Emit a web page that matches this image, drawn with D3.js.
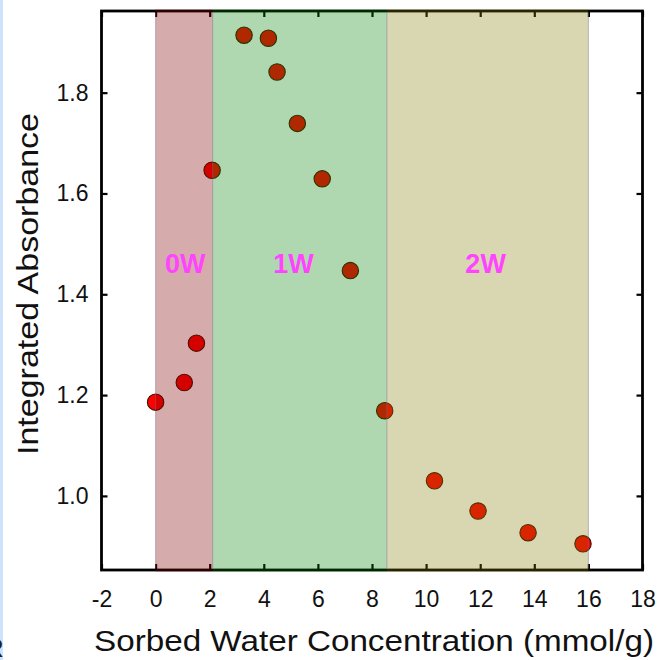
<!DOCTYPE html>
<html>
<head>
<meta charset="utf-8">
<script src="https://cdn.jsdelivr.net/npm/d3@7"></script>
<style>
  html, body { margin: 0; padding: 0; background: #fff; }
  svg { display: block; }
  text { font-family: "Liberation Sans", Arial, sans-serif; }
</style>
</head>
<body>
<script>
// Sorbed water concentration (mmol/g) and integrated absorbance
const waterConc = [0.0, 1.06, 1.51, 2.09, 3.27, 4.17, 4.49, 5.24, 6.16, 7.20, 8.47, 10.31, 11.92, 13.77, 15.80];
const absorbance = [1.186, 1.225, 1.303, 1.646, 1.914, 1.908, 1.841, 1.739, 1.629, 1.447, 1.169, 1.030, 0.970, 0.927, 0.905];

// Hydration regimes (start, end) in mmol/g
const regionNames = ["0W", "1W", "2W"];
const regionStart = [0.0, 2.11, 8.55];
const regionEnd = [2.11, 8.55, 16.0];
const regionFill = ["rgba(128,0,0,0.33)", "rgba(0,130,0,0.31)", "rgba(128,118,0,0.30)"];
const labelX = [1.1, 5.1, 12.2];

const xTicks = [-2, 0, 2, 4, 6, 8, 10, 12, 14, 16, 18];
const yTicks = [1.0, 1.2, 1.4, 1.6, 1.8];

const W = 660, H = 660;
const svg = d3.select("body").append("svg").attr("width", W).attr("height", H);

// thin blue strip at the left edge, with the tail of a neighbouring letter
svg.append("rect").attr("x", 0).attr("y", 0).attr("width", 3).attr("height", H).attr("fill", "#cfe2fb");
svg.append("text").attr("x", -15).attr("y", 657).attr("font-size", 26).attr("fill", "#222").text("R");

const x = d3.scaleLinear().domain([-2, 18]).range([101.5, 642.5]);
const y = d3.scaleLinear().domain([0.853, 1.962]).range([570, 11]);

const plotLeft = x.range()[0], plotRight = x.range()[1];
const plotTop = y.range()[1], plotBottom = y.range()[0];
const tickLen = 6;

// axes with inward ticks on all four sides
const axisG = svg.append("g");
axisG.append("g").attr("transform", `translate(0,${plotBottom})`)
  .call(d3.axisBottom(x).tickValues(xTicks).tickSizeInner(-tickLen).tickSizeOuter(0).tickPadding(21)
    .tickFormat(d => String(d)));
axisG.append("g").attr("transform", `translate(0,${plotTop})`)
  .call(d3.axisTop(x).tickValues(xTicks).tickSizeInner(-tickLen).tickSizeOuter(0).tickFormat(""));
axisG.append("g").attr("transform", `translate(${plotLeft},0)`)
  .call(d3.axisLeft(y).tickValues(yTicks).tickSizeInner(-tickLen).tickSizeOuter(0).tickPadding(13)
    .tickFormat(d => d.toFixed(1)));
axisG.append("g").attr("transform", `translate(${plotRight},0)`)
  .call(d3.axisRight(y).tickValues(yTicks).tickSizeInner(-tickLen).tickSizeOuter(0).tickFormat(""));

axisG.selectAll(".domain").remove();
axisG.selectAll(".tick line").attr("stroke", "#000").attr("stroke-width", 2.2);
axisG.selectAll(".tick text").attr("font-size", 23).attr("fill", "#111")
  .attr("font-family", "'Liberation Sans', Arial, sans-serif");

svg.append("rect")
  .attr("x", plotLeft).attr("y", plotTop).attr("width", plotRight - plotLeft).attr("height", plotBottom - plotTop)
  .attr("fill", "none").attr("stroke", "#000").attr("stroke-width", 2.8);

// data points
svg.append("g").selectAll("circle")
  .data(waterConc.map((v, i) => [v, absorbance[i]]))
  .join("circle")
  .attr("cx", d => x(d[0])).attr("cy", d => y(d[1])).attr("r", 8.2)
  .attr("fill", "#ff0000").attr("stroke", "#3a1200").attr("stroke-width", 1.1);

// translucent regime bands drawn over everything in the frame
const bandG = svg.append("g");
bandG.selectAll("rect")
  .data(regionNames.map((n, i) => ({ n, s: regionStart[i], e: regionEnd[i], c: regionFill[i] })))
  .join("rect")
  .attr("x", d => x(d.s)).attr("width", d => x(d.e) - x(d.s))
  .attr("y", plotTop - 1.5).attr("height", plotBottom - plotTop + 3)
  .attr("fill", d => d.c);
bandG.selectAll("line")
  .data([regionStart[0], regionStart[1], regionStart[2], regionEnd[2]])
  .join("line")
  .attr("x1", d => x(d)).attr("x2", d => x(d))
  .attr("y1", plotTop + 1.5).attr("y2", plotBottom - 1.5)
  .attr("stroke", "rgba(120,110,140,0.45)").attr("stroke-width", 1);

// regime labels
svg.append("g").selectAll("text")
  .data(regionNames)
  .join("text")
  .attr("x", (d, i) => x(labelX[i])).attr("y", 273)
  .attr("text-anchor", "middle").attr("font-size", 27).attr("font-weight", "bold")
  .attr("fill", "#ff44ff").text(d => d);

// axis titles
svg.append("text").attr("x", 374).attr("y", 651).attr("text-anchor", "middle")
  .attr("font-size", 30).attr("textLength", 560).attr("lengthAdjust", "spacingAndGlyphs")
  .attr("fill", "#111").text("Sorbed Water Concentration (mmol/g)");
svg.append("text").attr("transform", "translate(38,284) rotate(-90)").attr("text-anchor", "middle")
  .attr("font-size", 30).attr("textLength", 342).attr("lengthAdjust", "spacingAndGlyphs")
  .attr("fill", "#111").text("Integrated Absorbance");
</script>
</body>
</html>
